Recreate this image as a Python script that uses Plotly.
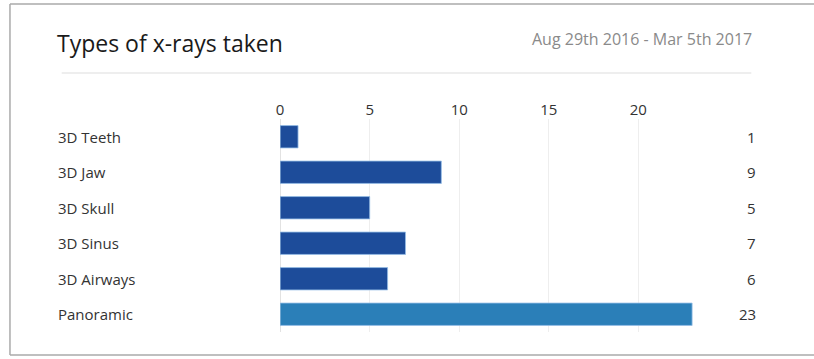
import plotly.graph_objects as go

categories = ["3D Teeth", "3D Jaw", "3D Skull", "3D Sinus", "3D Airways", "Panoramic"]
values = [1, 9, 5, 7, 6, 23]
bar_colors = ["#1d4c9a", "#1d4c9a", "#1d4c9a", "#1d4c9a", "#1d4c9a", "#2b7fb8"]
tick_values = [0, 5, 10, 15, 20]
title_text = "Types of x-rays taken"
date_text = "Aug 29th 2016 - Mar 5th 2017"

W, H = 814, 359
FONT = "Open Sans"

def px(x):
    return x / W

def py(y):
    return 1 - y / H

fig = go.Figure()
fig.add_trace(go.Bar(
    x=values, y=categories, orientation="h",
    marker=dict(color=bar_colors, line=dict(color="rgba(150,190,230,0.8)", width=1)),
    hoverinfo="x+y",
))

annotations = []
for c, v in zip(categories, values):
    annotations.append(dict(x=px(52), xref="paper", y=c, yref="y", text=c,
                            xanchor="left", yanchor="middle", showarrow=False,
                            font=dict(family=FONT, size=15, color="#333333")))
    annotations.append(dict(x=px(758), xref="paper", y=c, yref="y", text=str(v),
                            xanchor="right", yanchor="middle", showarrow=False,
                            font=dict(family=FONT, size=15, color="#333333")))
annotations.append(dict(x=px(51), xref="paper", y=py(43), yref="paper", text=title_text,
                        xanchor="left", yanchor="middle", showarrow=False,
                        font=dict(family=FONT, size=23, color="#1a1a1a")))
annotations.append(dict(x=px(754), xref="paper", y=py(39), yref="paper", text=date_text,
                        xanchor="right", yanchor="middle", showarrow=False,
                        font=dict(family=FONT, size=16, color="#8a8a8a")))

border = dict(color="#aaaaaa", width=1.5)
shapes = [
    dict(type="line", xref="paper", yref="paper", x0=px(6), x1=px(1000), y0=py(4), y1=py(4), line=border),
    dict(type="line", xref="paper", yref="paper", x0=px(6), x1=px(1000), y0=py(355), y1=py(355), line=border),
    dict(type="line", xref="paper", yref="paper", x0=px(6), x1=px(6), y0=py(355), y1=py(4), line=border),
    dict(type="line", xref="paper", yref="paper", x0=px(58), x1=px(751), y0=py(73), y1=py(73),
         line=dict(color="#dddddd", width=1)),
]

x0 = 277.5
unit = 18.0
fig.update_layout(
    width=W, height=H,
    margin=dict(l=0, r=0, t=0, b=0),
    paper_bgcolor="white", plot_bgcolor="white",
    showlegend=False,
    bargap=0.37,
    font=dict(family=FONT, size=15, color="#333333"),
    xaxis=dict(domain=[px(x0), px(x0 + unit * 25)], range=[0, 25], side="top",
               tickvals=tick_values, showgrid=True, gridcolor="#eeeeee", gridwidth=1,
               zeroline=True, zerolinecolor="#e2e2e2", zerolinewidth=1,
               showline=False, ticks="", tickfont=dict(family=FONT, size=15, color="#333333"),
               fixedrange=True),
    yaxis=dict(domain=[py(332), py(119)], categoryorder="array",
               categoryarray=categories, autorange="reversed",
               showticklabels=False, showgrid=False, zeroline=False, showline=False,
               ticks="", fixedrange=True),
    annotations=annotations,
    shapes=shapes,
)

fig.write_html("out.html", config={"displayModeBar": False},
               post_script="document.body.style.margin='0';document.body.style.overflow='hidden';")
